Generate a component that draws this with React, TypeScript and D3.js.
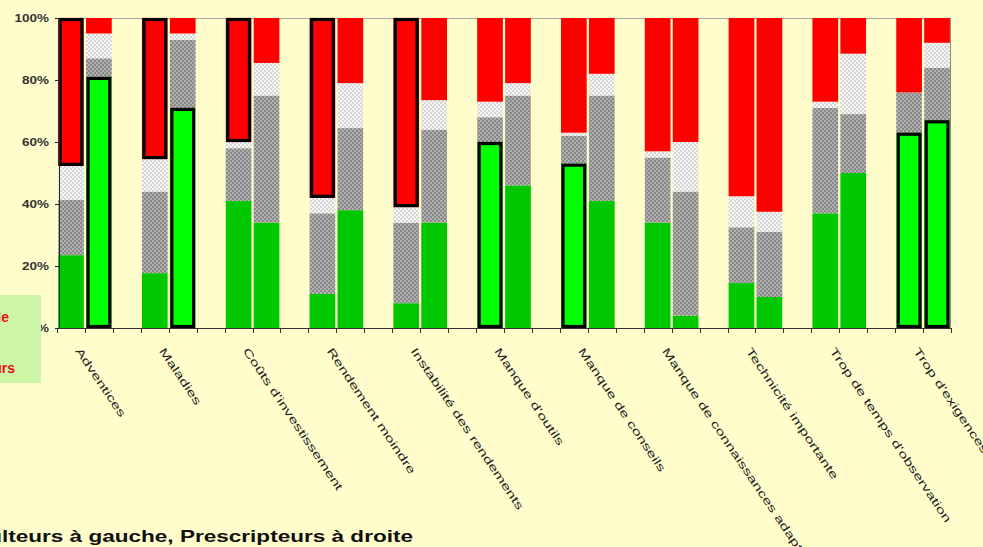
import React from 'react';
import * as d3 from 'd3';

const categories = [
  "Adventices",
  "Maladies",
  "Coûts d'investissement",
  "Rendement moindre",
  "Instabilité des rendements",
  "Manque d'outils",
  "Manque de conseils",
  "Manque de connaissances adaptées",
  "Technicité importante",
  "Trop de temps d'observation",
  "Trop d'exigences",
];
// bars alternate: Agriculteurs (left), Prescripteurs (right)
const vert = [23.5, 81, 17.7, 71, 41, 34, 11, 38, 8, 34, 60, 46, 53, 41, 34, 4, 14.5, 10, 37, 50, 63, 67];
const grisFonce = [17.8, 6, 26.3, 22, 17, 41, 26, 26.5, 26, 30, 8, 29, 9, 34, 21, 40, 18, 21, 34, 19, 13, 17];
const grisClair = [11, 8, 10.5, 2, 2, 10.5, 5, 14.5, 5, 9.5, 5, 4, 1, 7, 2, 16, 10, 6.5, 2, 19.5, 0, 8];
const rouge = [47.7, 5, 45.5, 5, 40, 14.5, 58, 21, 61, 26.5, 27, 21, 37, 18, 43, 40, 57.5, 62.5, 27, 11.5, 24, 8];
const highlight = ["rouge", "vert", "rouge", "vert", "rouge", "", "rouge", "", "rouge", "", "vert", "", "vert", "", "", "", "", "", "", "", "vert", "vert"];

const yTicks = [0, 20, 40, 60, 80, 100];
const yTickLabels = ["0%", "20%", "40%", "60%", "80%", "100%"];
const legendLabels = ["Obstacle", "Freins majeurs"];
const footnote = "Agriculteurs à gauche, Prescripteurs à droite";

const keys = ["vert", "grisFonce", "grisClair", "rouge"];
const FONT = "'Liberation Sans', Arial, sans-serif";

export default function App() {
  const W = 983, H = 547;
  const left = 57, right = 951, top = 18, bottom = 328;
  const nSlots = categories.length * 3 - 1;
  const x = d3.scaleBand<number>().domain(d3.range(nSlots)).range([left, right]).paddingInner(0.08).paddingOuter(0.04);
  const y = d3.scaleLinear().domain([0, 100]).range([bottom, top]);
  const bw = x.bandwidth();
  const step = x.step();
  const slotOf = (i: number) => Math.floor(i / 2) * 3 + (i % 2);

  const rows = vert.map((v, i) => ({ vert: v, grisFonce: grisFonce[i], grisClair: grisClair[i], rouge: rouge[i] }));
  const series = d3.stack<any>().keys(keys)(rows);

  const fillFor = (key: string, i: number) => {
    if (key === "vert") return highlight[i] === "vert" ? "#00ff00" : "#00c800";
    if (key === "grisFonce") return "url(#darkHatch)";
    if (key === "grisClair") return "url(#lightHatch)";
    return "#ff0000";
  };

  const boundaries = d3.range(nSlots + 1).map((s) =>
    s < nSlots ? (x(s) as number) - (step * 0.08) / 2 : (x(nSlots - 1) as number) + bw + (step * 0.08) / 2
  );

  return (
    <svg width={W} height={H} style={{ position: 'absolute', left: 0, top: 0 }} fontFamily={FONT}>
      <defs>
        <pattern id="darkHatch" width={4} height={4} patternUnits="userSpaceOnUse">
          <rect width={4} height={4} fill="#888888" />
          <rect width={2} height={2} fill="#b0b0b0" />
          <rect x={2} y={2} width={2} height={2} fill="#b0b0b0" />
        </pattern>
        <pattern id="lightHatch" width={4} height={4} patternUnits="userSpaceOnUse">
          <rect width={4} height={4} fill="#d6d6d6" />
          <rect width={2} height={2} fill="#f6f6f6" />
          <rect x={2} y={2} width={2} height={2} fill="#f6f6f6" />
        </pattern>
      </defs>
      <rect width={W} height={H} fill="#fffdcc" />

      {/* plot border */}
      <line x1={left + 2.5} x2={right} y1={top + 0.5} y2={top + 0.5} stroke="#a8a8a0" />
      <line x1={right - 0.5} x2={right - 0.5} y1={top} y2={bottom} stroke="#8a8a80" />

      {/* bars */}
      {series.map((s) => (
        <g key={s.key}>
          {s.map((d, i) => (
            <rect key={i} x={x(slotOf(i))} width={bw} y={y(d[1])} height={Math.max(0, y(d[0]) - y(d[1]))} fill={fillFor(s.key, i)} />
          ))}
        </g>
      ))}

      {/* highlighted segments */}
      {series.map((s) =>
        s.map((d, i) =>
          highlight[i] === s.key ? (
            <rect key={s.key + i} x={(x(slotOf(i)) as number) + 2} width={bw - 4} y={y(d[1]) + 1.5}
              height={y(d[0]) - y(d[1]) - 3} fill="none" stroke="#000" strokeWidth={3.2} />
          ) : null
        )
      )}

      {/* axes */}
      <line x1={59.5} x2={59.5} y1={top} y2={bottom + 1} stroke="#222" />
      {yTicks.map((t) => (
        <line key={t} x1={55} x2={59.5} y1={Math.round(y(t)) + 0.5} y2={Math.round(y(t)) + 0.5} stroke="#222" />
      ))}
      <line x1={59} x2={right} y1={bottom + 0.5} y2={bottom + 0.5} stroke="#333" />
      {boundaries.map((b, k) => (
        <line key={k} x1={Math.round(b) + 0.5} x2={Math.round(b) + 0.5} y1={bottom} y2={bottom + 5} stroke="#333" />
      ))}

      {yTicks.map((t, k) => (
        <text key={t} transform={`translate(49,${y(t) + 4}) scale(1.35,1)`} textAnchor="end" fontSize={10}
          fontWeight="bold" fill="#333">{yTickLabels[k]}</text>
      ))}

      {/* category labels */}
      {categories.map((c, g) => (
        <text key={c} transform={`translate(${(x(g * 3) as number) + bw / 2 + 4},351) rotate(56) scale(1.5,1)`}
          fontSize={11} fill="#222">{c}</text>
      ))}

      {/* legend (partially cropped) */}
      <rect x={-10} y={295} width={51} height={88} fill="#ccf5a6" />
      <text x={9} y={322} textAnchor="end" fontSize={14} fontWeight="bold" fill="#ee1111">{legendLabels[0]}</text>
      <text x={15} y={373} textAnchor="end" fontSize={14} fontWeight="bold" fill="#ee1111">{legendLabels[1]}</text>

      <text transform="translate(413,542) scale(1.41,1)" textAnchor="end" fontSize={16} fontWeight="bold" fill="#111">{footnote}</text>
    </svg>
  );
}
